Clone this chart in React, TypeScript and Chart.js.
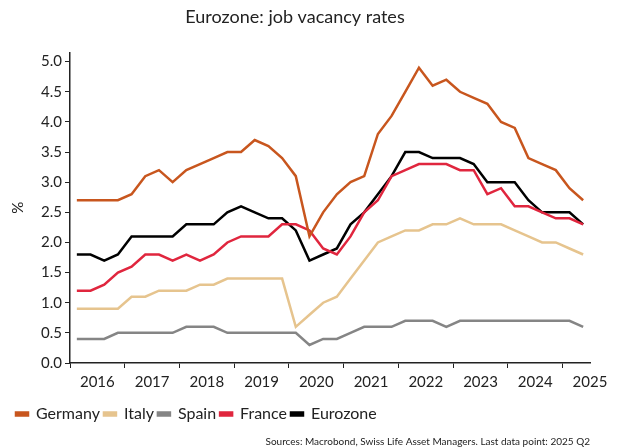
import React, { useEffect, useRef } from "react";
import { Chart, registerables } from "chart.js";

Chart.register(...registerables);

const years = ["2016", "2017", "2018", "2019", "2020", "2021", "2022", "2023", "2024", "2025"];
// quarterly, 2016 Q1 .. 2025 Q2
const quarters: string[] = [];
for (const y of years) for (let q = 1; q <= 4; q++) if (!(y === "2025" && q > 2)) quarters.push(`${y} Q${q}`);

const germany = [2.7, 2.7, 2.7, 2.7, 2.8, 3.1, 3.2, 3.0, 3.2, 3.3, 3.4, 3.5, 3.5, 3.7, 3.6, 3.4, 3.1, 2.1, 2.5, 2.8,
  3.0, 3.1, 3.8, 4.1, 4.5, 4.9, 4.6, 4.7, 4.5, 4.4, 4.3, 4.0, 3.9, 3.4, 3.3, 3.2, 2.9, 2.7];
const italy = [0.9, 0.9, 0.9, 0.9, 1.1, 1.1, 1.2, 1.2, 1.2, 1.3, 1.3, 1.4, 1.4, 1.4, 1.4, 1.4, 0.6, 0.8, 1.0, 1.1,
  1.4, 1.7, 2.0, 2.1, 2.2, 2.2, 2.3, 2.3, 2.4, 2.3, 2.3, 2.3, 2.2, 2.1, 2.0, 2.0, 1.9, 1.8];
const spain = [0.4, 0.4, 0.4, 0.5, 0.5, 0.5, 0.5, 0.5, 0.6, 0.6, 0.6, 0.5, 0.5, 0.5, 0.5, 0.5, 0.5, 0.3, 0.4, 0.4,
  0.5, 0.6, 0.6, 0.6, 0.7, 0.7, 0.7, 0.6, 0.7, 0.7, 0.7, 0.7, 0.7, 0.7, 0.7, 0.7, 0.7, 0.6];
const france = [1.2, 1.2, 1.3, 1.5, 1.6, 1.8, 1.8, 1.7, 1.8, 1.7, 1.8, 2.0, 2.1, 2.1, 2.1, 2.3, 2.3, 2.2, 1.9, 1.8,
  2.1, 2.5, 2.7, 3.1, 3.2, 3.3, 3.3, 3.3, 3.2, 3.2, 2.8, 2.9, 2.6, 2.6, 2.5, 2.4, 2.4, 2.3];
const eurozone = [1.8, 1.8, 1.7, 1.8, 2.1, 2.1, 2.1, 2.1, 2.3, 2.3, 2.3, 2.5, 2.6, 2.5, 2.4, 2.4, 2.2, 1.7, 1.8, 1.9,
  2.3, 2.5, 2.8, 3.1, 3.5, 3.5, 3.4, 3.4, 3.4, 3.3, 3.0, 3.0, 3.0, 2.7, 2.5, 2.5, 2.5, 2.3];

const series = [
  { label: "Germany", data: germany, color: "#C8561E" },
  { label: "Italy", data: italy, color: "#E6C48E" },
  { label: "Spain", data: spain, color: "#858585" },
  { label: "France", data: france, color: "#E0263E" },
  { label: "Eurozone", data: eurozone, color: "#000000" },
];

const FONT = "Lato, 'Open Sans', sans-serif";
const TEXT = "#222222";

const legendShift = {
  id: "legendShift",
  afterLayout(chart: any) {
    if (chart.legend) {
      chart.legend.left += 12;
      chart.legend.right += 12;
    }
  },
};

export default function App() {
  const ref = useRef<HTMLCanvasElement | null>(null);
  useEffect(() => {
    document.body.style.margin = "0";
    const ctx = ref.current!;
    const chart = new Chart(ctx, {
      type: "line",
      data: {
        datasets: series.map((s) => ({
          label: s.label,
          data: s.data.map((v, i) => ({ x: i + 0.5, y: v })),
          borderColor: s.color,
          backgroundColor: s.color,
          borderWidth: 2.5,
          pointRadius: 0,
          tension: 0,
        })),
      },
      plugins: [legendShift],
      options: {
        responsive: false,
        animation: false,
        layout: { padding: { left: 0, right: 29, top: 0, bottom: 0 } },
        plugins: {
          tooltip: { enabled: false },
          title: {
            display: true,
            text: "Eurozone: job vacancy rates",
            color: TEXT,
            font: { family: FONT, size: 18, weight: "normal" },
            padding: { top: 6, bottom: 25 },
          },
          subtitle: {
            display: true,
            position: "bottom",
            align: "end",
            text: "Sources: Macrobond, Swiss Life Asset Managers. Last data point: 2025 Q2",
            color: TEXT,
            font: { family: FONT, size: 10, weight: "normal" },
            padding: { top: 4, bottom: 0 },
          },
          legend: {
            position: "bottom",
            align: "start",
            labels: {
              boxWidth: 12,
              boxHeight: 3,
              padding: 4,
              color: TEXT,
              font: { family: FONT, size: 16 },
            },
          },
        },
        scales: {
          x: {
            type: "linear",
            min: 0,
            max: quarters.length,
            border: { display: true, color: "#222", width: 1.5 },
            grid: {
              drawOnChartArea: false,
              drawTicks: true,
              tickLength: 5,
              tickColor: (c: any) => (c.tick && c.tick.value % 4 === 0 ? "#222" : "rgba(0,0,0,0)"),
              tickWidth: 1,
            },
            afterBuildTicks: (scale: any) => {
              const t: any[] = [];
              for (let v = 0; v <= quarters.length; v += 2) t.push({ value: v });
              scale.ticks = t;
            },
            afterFit: (scale: any) => {
              scale.height += 6;
            },
            ticks: {
              autoSkip: false,
              maxRotation: 0,
              padding: 5,
              color: TEXT,
              font: { family: FONT, size: 15 },
              callback: (v: any) => (v % 4 === 2 ? years[(v - 2) / 4] : ""),
            },
          },
          y: {
            min: 0,
            max: 5.15,
            afterFit: (scale: any) => {
              scale.width = 70;
            },
            afterBuildTicks: (scale: any) => {
              const t: any[] = [];
              for (let k = 0; k <= 10; k++) t.push({ value: k * 0.5 });
              scale.ticks = t;
            },
            border: { display: true, color: "#222", width: 1.5 },
            grid: { drawOnChartArea: false, drawTicks: true, tickLength: 5, tickColor: "#222" },
            title: {
              display: true,
              text: "%",
              color: TEXT,
              font: { family: FONT, size: 15 },
              padding: { top: 9, bottom: 0 },
            },
            ticks: {
              padding: 3,
              color: TEXT,
              font: { family: FONT, size: 15 },
              callback: (v: any) => Number(v).toFixed(1),
            },
          },
        },
      },
    });
    return () => chart.destroy();
  }, []);
  return <canvas ref={ref} width={619} height={448} style={{ display: "block" }} />;
}
